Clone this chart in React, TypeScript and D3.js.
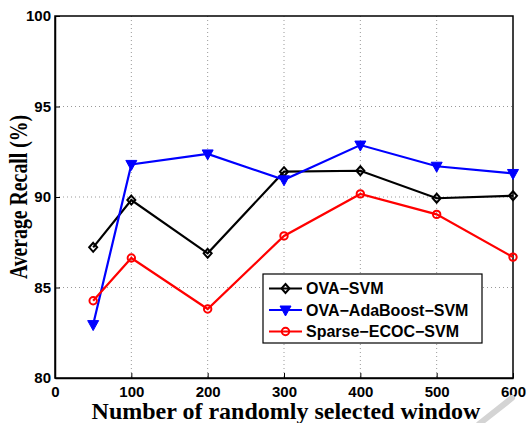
import React, { useEffect, useRef } from 'react';
import * as d3 from 'd3';

const windows = [50, 100, 200, 300, 400, 500, 600];
const ovaSvm = [87.22, 89.83, 86.89, 91.4, 91.45, 89.93, 90.07];
const ovaAdaBoost = [82.95, 91.8, 92.38, 90.95, 92.87, 91.7, 91.3];
const sparseEcoc = [84.27, 86.63, 83.81, 87.85, 90.17, 89.04, 86.68];
const xTicks = [0, 100, 200, 300, 400, 500, 600];
const yTicks = [80, 85, 90, 95, 100];

const series = [
  { name: 'OVA\u2212SVM', values: ovaSvm, color: '#000000', marker: 'diamond' },
  { name: 'OVA\u2212AdaBoost\u2212SVM', values: ovaAdaBoost, color: '#0000ff', marker: 'triangle' },
  { name: 'Sparse\u2212ECOC\u2212SVM', values: sparseEcoc, color: '#ff0000', marker: 'circle' },
];

const W = 528;
const H = 423;
const margin = { left: 55, top: 16, right: 15, bottom: 45 };

const App = () => {
  const ref = useRef<SVGGElement>(null);

  useEffect(() => {
    const g = d3.select(ref.current);
    g.selectAll('*').remove();
    const iw = W - margin.left - margin.right;
    const ih = H - margin.top - margin.bottom;
    const x = d3.scaleLinear().domain([0, 600]).range([0, iw]);
    const y = d3.scaleLinear().domain([80, 100]).range([ih, 0]);

    // dotted grid
    g.selectAll('line.gx')
      .data(xTicks.slice(1, -1))
      .enter()
      .append('line')
      .attr('x1', d => x(d))
      .attr('x2', d => x(d))
      .attr('y1', 0)
      .attr('y2', ih)
      .attr('stroke', '#999')
      .attr('stroke-width', 1)
      .attr('stroke-dasharray', '1,3');
    g.selectAll('line.gy')
      .data(yTicks.slice(1, -1))
      .enter()
      .append('line')
      .attr('x1', 0)
      .attr('x2', iw)
      .attr('y1', d => y(d))
      .attr('y2', d => y(d))
      .attr('stroke', '#999')
      .attr('stroke-width', 1)
      .attr('stroke-dasharray', '1,3');

    // axes
    const xAxis = g
      .append('g')
      .attr('transform', `translate(0,${ih})`)
      .call(d3.axisBottom(x).tickValues(xTicks).tickSizeInner(-5).tickSizeOuter(0).tickPadding(8));
    const yAxis = g
      .append('g')
      .call(d3.axisLeft(y).tickValues(yTicks).tickSizeInner(-5).tickSizeOuter(0).tickPadding(4));
    [xAxis, yAxis].forEach(a => {
      a.selectAll('path').attr('stroke', '#000').attr('stroke-width', 1.5);
      a.selectAll('line').attr('stroke', '#000');
      a.selectAll('text')
        .attr('fill', '#000')
        .style('font-family', '"Liberation Sans", Arial, sans-serif')
        .style('font-weight', 'bold')
        .style('font-size', '15px');
    });
    g.append('rect')
      .attr('width', iw)
      .attr('height', ih)
      .attr('fill', 'none')
      .attr('stroke', '#000')
      .attr('stroke-width', 1.5);

    const line = d3
      .line<number>()
      .x((d, i) => x(windows[i]))
      .y(d => y(d));

    const drawMarker = (sel, s, cx, cy) => {
      if (s.marker === 'diamond') {
        sel.append('path')
          .attr('d', `M${cx},${cy - 4.5}L${cx + 4},${cy}L${cx},${cy + 4.5}L${cx - 4},${cy}Z`)
          .attr('fill', 'none')
          .attr('stroke', s.color)
          .attr('stroke-width', 2);
      } else if (s.marker === 'triangle') {
        sel.append('path')
          .attr('d', `M${cx - 5.5},${cy - 4}L${cx + 5.5},${cy - 4}L${cx},${cy + 6}Z`)
          .attr('fill', s.color)
          .attr('stroke', s.color)
          .attr('stroke-width', 1);
      } else {
        sel.append('circle')
          .attr('cx', cx)
          .attr('cy', cy)
          .attr('r', 3.7)
          .attr('fill', 'none')
          .attr('stroke', s.color)
          .attr('stroke-width', 2);
      }
    };

    series.forEach(s => {
      g.append('path')
        .datum(s.values)
        .attr('d', line)
        .attr('fill', 'none')
        .attr('stroke', s.color)
        .attr('stroke-width', 2.2);
      s.values.forEach((v, i) => drawMarker(g, s, x(windows[i]), y(v)));
    });

    // legend
    const lg = g.append('g').attr('transform', `translate(${263 - margin.left},${274 - margin.top})`);
    lg.append('rect')
      .attr('width', 219)
      .attr('height', 69)
      .attr('fill', '#fff')
      .attr('stroke', '#000')
      .attr('stroke-width', 1.2);
    series.forEach((s, i) => {
      const yy = 14.5 + i * 21.5;
      lg.append('line')
        .attr('x1', 6)
        .attr('x2', 39)
        .attr('y1', yy)
        .attr('y2', yy)
        .attr('stroke', s.color)
        .attr('stroke-width', 2.2);
      drawMarker(lg, s, 22.5, yy);
      lg.append('text')
        .attr('x', 43)
        .attr('y', yy + 5.5)
        .text(s.name)
        .style('font-family', '"Liberation Sans", Arial, sans-serif')
        .style('font-weight', 'bold')
        .style('font-size', '16px');
    });

    // titles
    g.append('text')
      .attr('x', iw / 2 + 2)
      .attr('y', ih + 41)
      .attr('text-anchor', 'middle')
      .text('Number of randomly selected window')
      .style('font-family', '"Liberation Serif", "Times New Roman", serif')
      .style('font-weight', 'bold')
      .style('font-size', '24px');
    g.append('text')
      .attr('transform', `translate(${-28},${ih / 2}) rotate(-90) scale(0.86,1.1)`)
      .attr('text-anchor', 'middle')
      .text('Average Recall (%)')
      .style('font-family', '"Liberation Serif", "Times New Roman", serif')
      .style('font-weight', 'bold')
      .style('font-size', '23px');
  }, []);

  return (
    <svg width={W} height={H} style={{ position: 'absolute', left: 0, top: 0, background: '#fff' }}>
      <g ref={ref} transform={`translate(${margin.left},${margin.top})`} />
      <line x1={479} y1={424} x2={512} y2={398} stroke="#d4d4d4" strokeWidth={6} strokeLinecap="round" />
    </svg>
  );
};

export default App;
